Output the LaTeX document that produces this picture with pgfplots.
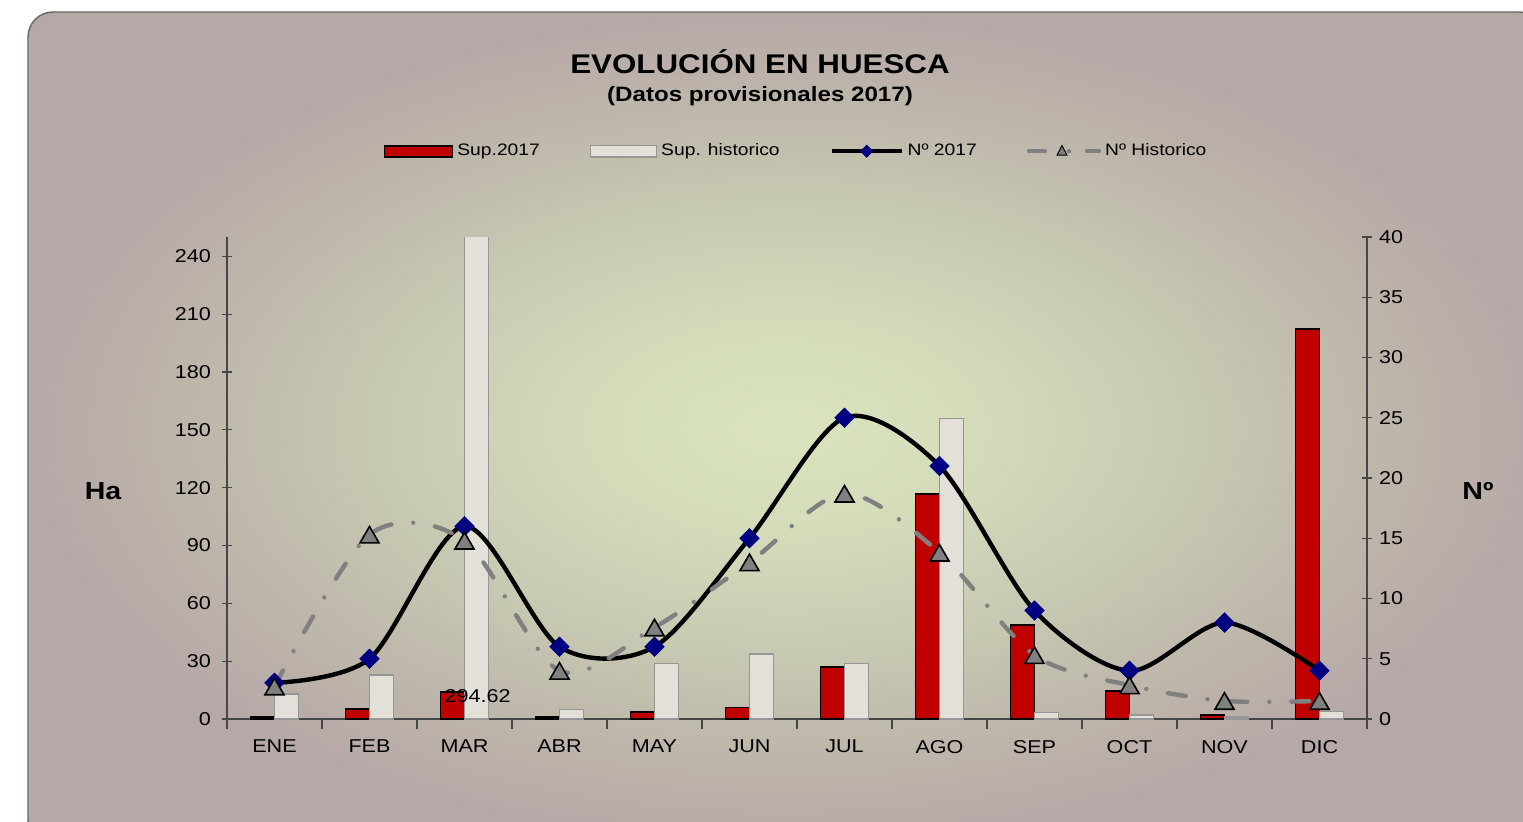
\documentclass[border=0pt]{standalone}
\usepackage{fontspec}
\setmainfont{Liberation Sans}[FakeStretch=1.16]
\usepackage{pgfplots}
\pgfplotsset{compat=1.18}

\definecolor{sup17}{RGB}{192,0,0}
\definecolor{suphist}{RGB}{226,224,217}
\definecolor{histedge}{RGB}{150,150,150}
\definecolor{navyblue}{RGB}{0,0,128}
\definecolor{histgrey}{RGB}{128,128,128}
\definecolor{bg0}{RGB}{218,228,190}
\definecolor{bg1}{RGB}{212,220,186}
\definecolor{bg2}{RGB}{200,202,178}
\definecolor{bg3}{RGB}{189,181,170}
\definecolor{bgedge}{RGB}{183,168,168}
\definecolor{axisgrey}{RGB}{70,70,70}

\pgfdeclareradialshading{glow}{\pgfpoint{0bp}{0bp}}{color(0bp)=(bg0); color(6bp)=(bg1); color(13bp)=(bg2); color(20bp)=(bg3); color(25bp)=(bgedge); color(50bp)=(bgedge)}

\newcommand\tickfont{\fontsize{9.3}{11}\selectfont}

\begin{document}
\begin{tikzpicture}
\useasboundingbox (0pt,0pt) rectangle (761.5pt,410.5pt);
\fill[white] (0pt,0pt) rectangle (761.5pt,410.5pt);
\shadedraw[shading=glow, draw=black!60, line width=0.7pt, rounded corners=12.5pt] (14pt,404.5pt) rectangle (772pt,-12pt);

\node[font=\fontsize{13.5}{15}\selectfont\bfseries] at (380pt,379.5pt) {EVOLUCIÓN EN HUESCA};
\node[font=\fontsize{10.4}{12}\selectfont\bfseries] at (380pt,362.5pt) {(Datos provisionales 2017)};
\node[font=\fontsize{12.3}{14}\selectfont\bfseries] at (51.5pt,165pt) {Ha};
\node[font=\fontsize{12.3}{14}\selectfont\bfseries] at (739pt,165pt) {Nº};

% superficie (eje izquierdo)
\begin{axis}[
    at={(113.5pt,51pt)}, anchor=south west,
    scale only axis, width=570pt, height=241pt,
    xmin=-0.5, xmax=11.5, ymin=0, ymax=250,
    axis y line*=left, axis x line*=bottom,
    axis line style={axisgrey, line width=0.6pt, -},
    xtick={-0.5,0.5,...,11.5}, x tick label as interval,
    xticklabels={ENE,FEB,MAR,ABR,MAY,JUN,JUL,AGO,SEP,OCT,NOV,DIC},
    ytick={0,30,...,240},
    tick align=center, major tick length=5pt,
    tick style={axisgrey, line width=0.6pt},
    tick label style={font=\tickfont},
    xticklabel style={yshift=-2pt},
    yticklabel style={xshift=-2pt},
    /pgf/number format/assume math mode=true,
    ybar, bar width=12pt,
]
\addplot[fill=sup17, draw=black, line width=0.9pt, bar shift=-6pt] coordinates {
    (0,1) (1,5.2) (2,13.8) (3,1) (4,3.5) (5,6) (6,26.8) (7,116.7) (8,48.6) (9,14.5) (10,2) (11,202.3)
};
\addplot[fill=suphist, draw=histedge, line width=0.7pt, bar shift=6pt] coordinates {
    (0,13) (1,22.8) (2,294.62) (3,5) (4,28.9) (5,33.7) (6,28.9) (7,156) (8,3.5) (9,2) (10,1) (11,4)
};
\node[font=\tickfont] at (axis cs:2.137,12) {294.62};
\end{axis}

% numero de incendios (eje derecho)
\begin{axis}[
    at={(113.5pt,51pt)}, anchor=south west,
    scale only axis, width=570pt, height=241pt,
    xmin=-0.5, xmax=11.5, ymin=0, ymax=40,
    axis y line*=right, axis x line=none,
    axis line style={axisgrey, line width=0.6pt, -},
    ytick={0,5,...,40},
    tick align=center, major tick length=5pt,
    tick style={axisgrey, line width=0.6pt},
    tick label style={font=\tickfont},
    /pgf/number format/assume math mode=true,
    legend columns=4,
    legend style={at={(0.5,1.178)}, anchor=center, draw=none, fill=none,
        font=\fontsize{8.3}{10}\selectfont,
        /tikz/every even column/.append style={column sep=23pt}},
]
\addlegendimage{legend image code/.code={\draw[fill=sup17, draw=black, line width=0.9pt] (0pt,-2.8pt) rectangle (34pt,2.8pt);}}
\addlegendentry{Sup.2017}
\addlegendimage{legend image code/.code={\draw[fill=suphist, draw=histedge, line width=0.7pt] (0pt,-2.8pt) rectangle (33pt,2.8pt);}}
\addlegendentry{Sup. historico}
\addlegendimage{legend image code/.code={\draw[black, line width=2pt] (0pt,0pt) -- (35pt,0pt);
    \fill[navyblue] (17.5pt,-3pt) -- (20.5pt,0pt) -- (17.5pt,3pt) -- (14.5pt,0pt) -- cycle;}}
\addlegendentry{Nº 2017}
\addlegendimage{legend image code/.code={\draw[histgrey, line width=2.2pt, line cap=round, dash pattern=on 8pt off 12pt on 0pt off 9pt] (1pt,0pt) -- (36pt,0pt);
    \draw[fill=histgrey, draw=black, line width=0.5pt] (15pt,-2pt) -- (20pt,-2pt) -- (17.5pt,2.8pt) -- cycle;}}
\addlegendentry{Nº Historico}

\addplot[black, line width=2.2pt, smooth, mark=square*, mark size=3.5pt,
    mark options={rotate=45, fill=navyblue, draw=navyblue, line width=0.2pt}, forget plot] coordinates {
    (0,3) (1,5) (2,16) (3,6) (4,6) (5,15) (6,25) (7,21) (8,9) (9,4) (10,8) (11,4)
};
\addplot[histgrey, line width=2.2pt, smooth, line cap=round,
    dash pattern=on 9pt off 11pt on 0pt off 11pt,
    mark=triangle*, mark size=5.5pt,
    mark options={solid, yshift=-1.4pt, fill=histgrey, draw=black, line width=0.8pt}, forget plot] coordinates {
    (0,2.7) (1,15.3) (2,14.8) (3,4) (4,7.6) (5,13) (6,18.7) (7,13.8) (8,5.3) (9,2.8) (10,1.5) (11,1.5)
};
\end{axis}
\end{tikzpicture}
\end{document}
